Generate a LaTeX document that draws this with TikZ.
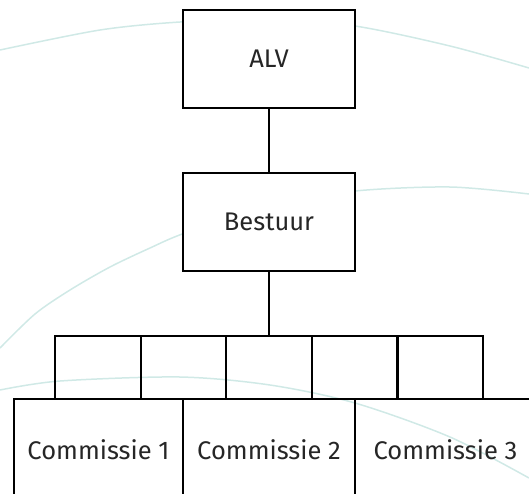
\documentclass[tikz,border=0pt]{standalone}
\usepackage{fontspec}
\setmainfont{Fira Sans}
\usetikzlibrary{chains,positioning}
\definecolor{wave}{RGB}{208,233,230}

\begin{document}
\begin{tikzpicture}[x=1pt,y=-1pt,
  every node/.style={draw,rectangle,line width=2.2pt,outer sep=0pt,inner sep=0pt,
    font=\fontsize{25.5}{30}\selectfont,text=black!85},
  topnode/.style={fill=white,minimum width=172pt,minimum height=98pt},
  cellnode/.style={minimum width=85.6pt,minimum height=63pt},
  comnode/.style={minimum height=102pt},
  swoosh/.style={draw=wave,line width=1.5pt},
  link/.style={line width=2.2pt},
]
\useasboundingbox (0,0) rectangle (529,493);
\clip (0,0) rectangle (529,493);

% the faint arcs behind
\draw[swoosh] plot[smooth] coordinates {(0,50) (100,30) (180,22) (270,19) (355,26) (450,46) (529,68)};
\draw[swoosh] plot[smooth] coordinates {(0,348) (35,314) (70,290) (110,267) (150,248) (185,233) (270,205) (355,191) (450,187) (529,194)};
\draw[swoosh] plot[smooth] coordinates {(0,390) (60,381) (180,377) (270,385) (355,403) (450,437) (529,478)};

% the board
\node[topnode] (alv) at (269,59) {ALV};
\node[topnode,below=65pt of alv] (bestuur) {Bestuur};

% the row of empty cells
\begin{scope}[shift={(97.8,367.5)},start chain=going right,node distance=0pt]
\foreach \i in {1,...,5}
\node[cellnode,on chain] (c\i) {};
\end{scope}

% the commissions
\begin{scope}[shift={(98.5,450)},start chain=going right,node distance=0pt]
\foreach \i/\w in {1/169,2/172,3/181}
\node[comnode,minimum width=\w pt,on chain] (k\i) {Commissie \i};
\end{scope}

% links
\draw[link] (alv) -- (bestuur);
\draw[link] (bestuur) -- (c3);
\end{tikzpicture}
\end{document}
